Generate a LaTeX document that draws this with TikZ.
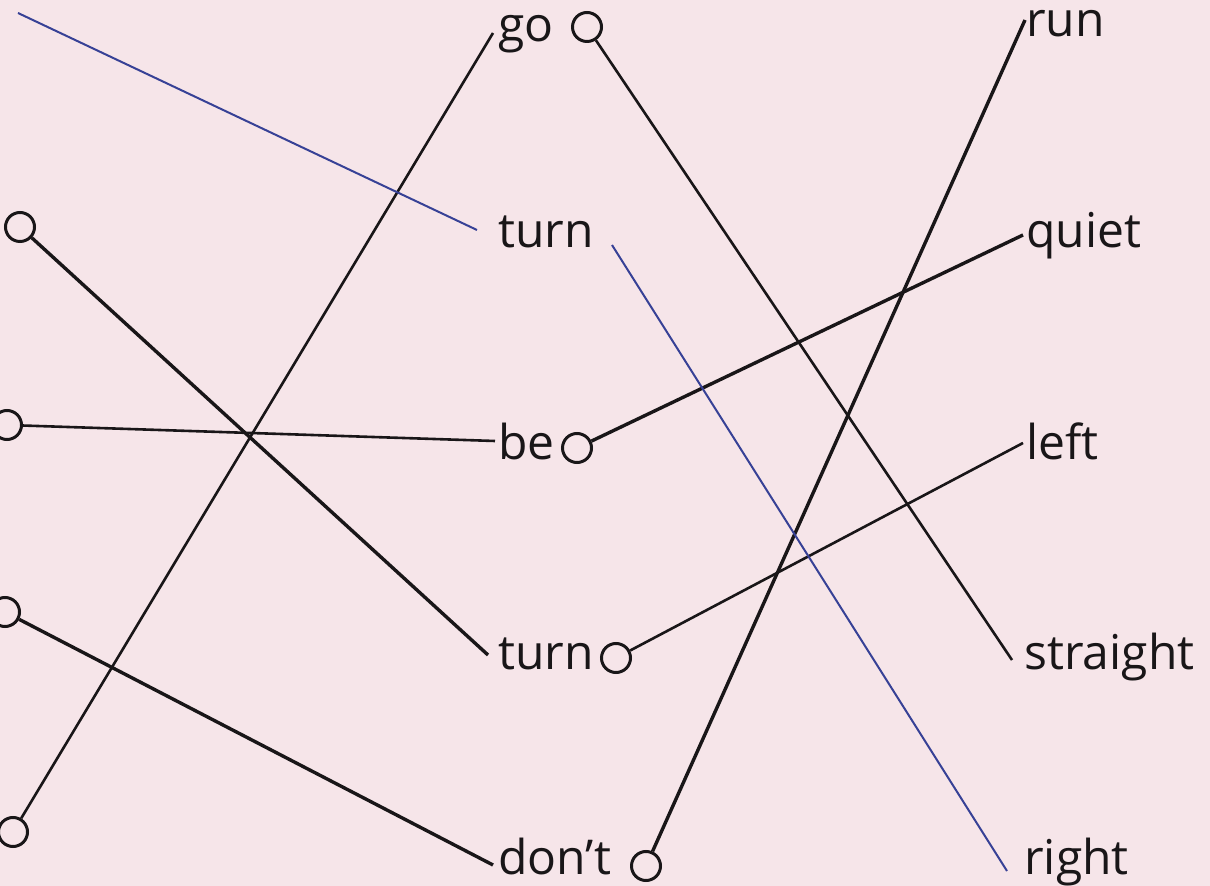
\documentclass[tikz,border=0pt]{standalone}
\usepackage{fontspec}
\setmainfont{Open Sans}
\definecolor{bg}{RGB}{246,229,233}
\definecolor{ink}{RGB}{25,22,24}
\definecolor{pen}{RGB}{55,65,150}
\begin{document}
\begin{tikzpicture}[x=0.5pt,y=-0.5pt,
 word/.style={anchor=base west, inner sep=0pt, text=ink, font=\fontsize{24}{28}\selectfont},
 ring/.style={circle, draw=ink, line width=1.5pt, minimum size=14.5pt, inner sep=0pt},
 link/.style={draw=ink, line width=1.3pt},
 boldlink/.style={draw=ink, line width=1.7pt},
 answer/.style={draw=pen, line width=1pt}]
\fill[bg] (0,0) rectangle (1210,886);
\useasboundingbox (0,0) rectangle (1210,886);

% middle words
\node[word] (go) at (498,42) {go};
\node[word] (turnA) at (498,248) {turn};
\node[word] (be) at (498,460) {be};
\node[word] (turnB) at (498,670) {turn};
\node[word] (dont) at (498,874) {don’t};
% right words
\node[word] (run) at (1026,37) {run};
\node[word] (quiet) at (1026,248) {quiet};
\node[word] (left) at (1026,460) {left};
\node[word] (straight) at (1024,670) {straight};
\node[word] (right) at (1024,874) {right};

% rings
\node[ring] (L1) at (20,227) {};
\node[ring] (L2) at (7,425) {};
\node[ring] (L3) at (5,612) {};
\node[ring] (L4) at (13,832) {};
\node[ring] (Mgo) at (587,27) {};
\node[ring] (Mbe) at (577,448) {};
\node[ring] (Mtb) at (616,658) {};
\node[ring] (Mdo) at (646,866) {};

% line ends
\coordinate (eGo) at (493,33);
\coordinate (eTA) at (477,230);
\coordinate (sTA) at (612,245);
\coordinate (eBe) at (495,441);
\coordinate (eTB) at (488,655);
\coordinate (eDo) at (493,865);
\coordinate (eRun) at (1025,20);
\coordinate (eQ) at (1023,235);
\coordinate (eL) at (1023,443);
\coordinate (eS) at (1012,660);
\coordinate (eR) at (1007,871);
\coordinate (bs) at (18,13);

% connectors
\draw[boldlink] (L1) -- (eTB);
\draw[link] (L2) -- (eBe);
\draw[boldlink] (L3) -- (eDo);
\draw[link] (L4) -- (eGo);
\draw[link] (Mgo) -- (eS);
\draw[boldlink] (Mbe) -- (eQ);
\draw[link] (Mtb) -- (eL);
\draw[boldlink] (Mdo) -- (eRun);
\draw[answer] (bs) -- (eTA);
\draw[answer] (sTA) -- (eR);
\end{tikzpicture}
\end{document}
